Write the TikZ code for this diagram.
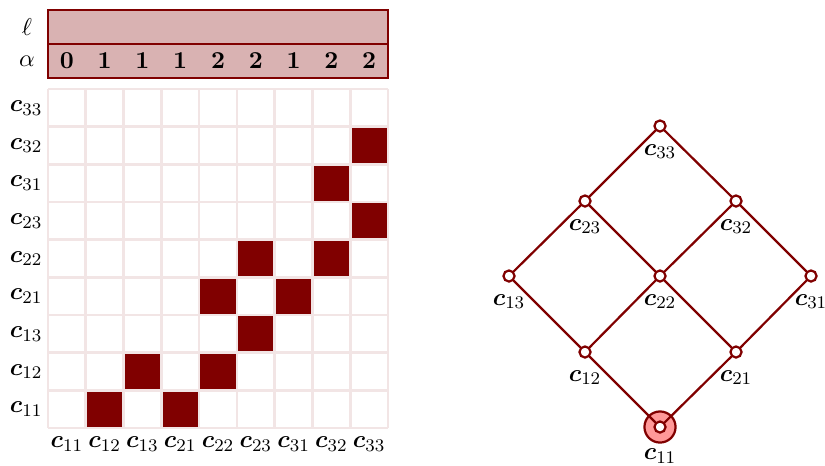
\documentclass[tikz,border=0pt]{standalone}
\usepackage{bm}
\usetikzlibrary{positioning}
\definecolor{maroon}{HTML}{800000}
\tikzset{
  vertex/.style={circle,draw=maroon,fill=white,line width=1pt,inner sep=0pt,minimum size=5pt},
  halo/.style={circle,draw=maroon,fill=red!40,line width=1pt,inner sep=0pt,minimum size=14pt},
  edge/.style={draw=maroon,line width=1pt},
  hdr/.style={draw=maroon,fill=maroon!30,line width=1pt},
  gridline/.style={draw=maroon!10,line width=1.2pt},
  cellfill/.style={fill=maroon},
  lbl/.style={inner sep=1pt}
}
\begin{document}
\begin{tikzpicture}[x=0.45pt,y=-0.45pt,font=\fontsize{11}{13}\selectfont]
        \useasboundingbox (0,0) rectangle (825,465);
        \pgfmathsetmacro{\xo}{48}
        \pgfmathsetmacro{\yo}{89}
        \pgfmathsetmacro{\cw}{37.78}
        \pgfmathsetmacro{\ch}{37.67}
        % header rows
        \draw[hdr] (48,10) rectangle (388,44);
        \draw[hdr] (48,44) rectangle (388,78);
        \node (ell) at (27,27) {$\ell$};
        \node (alpha) at (27,61) {$\alpha$};
        \foreach \d [count=\k] in {0,1,1,1,2,2,1,2,2}
            \node (a\k) at ({\xo+(\k-0.5)*\cw},61) {$\mathbf{\d}$};
        % filled cells (column, row from top)
        \foreach \c/\r in {9/2,8/3,9/4,6/5,8/5,5/6,7/6,6/7,3/8,5/8,2/9,4/9}
            \fill[cellfill] ({\xo+(\c-1)*\cw},{\yo+(\r-1)*\ch}) rectangle ++(\cw,\ch);
        % grid
        \foreach \i in {0,...,9} {
            \draw[gridline] ({\xo+\i*\cw},\yo) -- ++(0,{9*\ch});
            \draw[gridline] (\xo,{\yo+\i*\ch}) -- ++({9*\cw},0);
        }
        \foreach \n [count=\k] in {33,32,31,23,22,21,13,12,11}
            \node[lbl,anchor=east] (row\n) at (45,{\yo+(\k-0.5)*\ch}) {$\bm{c}_{\n}$};
        \foreach \n [count=\k] in {11,12,13,21,22,23,31,32,33}
            \node[lbl] (col\n) at ({\xo+(\k-0.5)*\cw},444) {$\bm{c}_{\n}$};
        % lattice
        \node[halo] (h11) at (660,427) {};
        \node[vertex] (v11) at (660,427) {};
        \node[vertex] (v12) at (585,352) {};
        \node[vertex] (v21) at (736,352) {};
        \node[vertex] (v13) at (509,276) {};
        \node[vertex] (v22) at (660,276) {};
        \node[vertex] (v31) at (811,276) {};
        \node[vertex] (v23) at (585,201) {};
        \node[vertex] (v32) at (736,201) {};
        \node[vertex] (v33) at (660,126) {};
        \foreach \a/\b in {11/12,11/21,12/13,12/22,21/22,21/31,13/23,22/23,22/32,31/32,23/33,32/33}
            \draw[edge] (v\a) -- (v\b);
        \foreach \n in {12,21,13,22,31,23,32,33}
            \node[lbl,below=4pt of v\n] (l\n) {$\bm{c}_{\n}$};
        \node[lbl,below=1pt of h11] (l11) {$\bm{c}_{11}$};
    \end{tikzpicture}
\end{document}
